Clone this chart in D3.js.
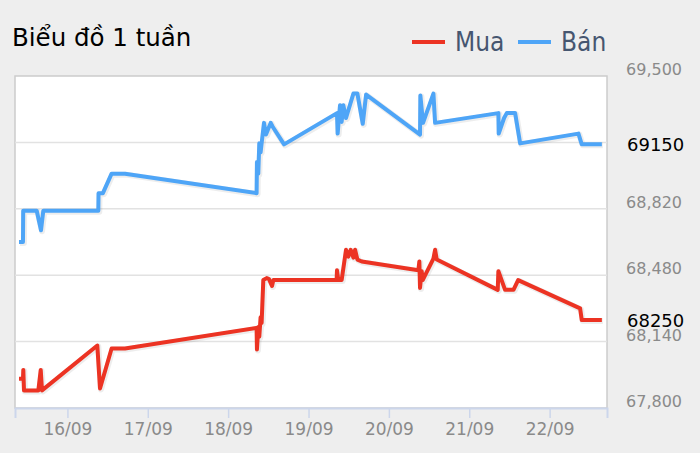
<!DOCTYPE html>
<html><head><meta charset="utf-8">
<script src="https://cdn.jsdelivr.net/npm/d3@7"></script>
<style>body{margin:0;background:#eeeeee;} svg{display:block}</style>
</head><body><svg id="c" width="700" height="453"></svg>
<script>
const title = "Biểu đồ 1 tuần";
const seriesNames = ["Mua", "Bán"];
const seriesColors = ["#ec3323", "#4ea5f7"];

const buyTimes = ["15/09 09:33","15/09 10:44","15/09 10:50","15/09 11:02","15/09 15:19","15/09 16:02","15/09 16:25",
  "16/09 08:56","16/09 09:44","16/09 13:12","16/09 17:12",
  "18/09 08:30","18/09 08:36","18/09 09:00","18/09 09:18","18/09 09:42","18/09 10:00","18/09 10:30","18/09 11:30","18/09 12:12","18/09 13:06","18/09 13:30",
  "19/09 08:24","19/09 08:30","19/09 08:54","19/09 09:54","19/09 11:12","19/09 11:54","19/09 12:36","19/09 13:24","19/09 13:54","19/09 14:36","19/09 15:54",
  "20/09 08:48","20/09 09:06","20/09 09:18","20/09 09:48","20/09 10:06","20/09 13:18","20/09 13:48","20/09 14:18",
  "21/09 08:30","21/09 08:42","21/09 10:42","21/09 13:12","21/09 14:36",
  "22/09 09:06","22/09 09:36","22/09 15:36"];
const buyValues = [67950,67950,67995,67890,67890,67995,67890,
  68120,67900,68105,68105,
  68210,68100,68215,68165,68265,68235,68455,68465,68460,68425,68455,
  68455,68505,68455,68455,68610,68575,68610,68570,68610,68560,68550,
  68505,68550,68415,68500,68455,68565,68610,68560,
  68405,68500,68405,68405,68455,
  68310,68250,68250];

const sellTimes = ["15/09 09:33","15/09 10:44","15/09 10:48","15/09 14:50","15/09 16:07","15/09 16:48",
  "16/09 09:14","16/09 09:18","16/09 10:36","16/09 13:12","16/09 17:12",
  "18/09 08:30","18/09 08:36","18/09 08:42","18/09 09:00","18/09 09:18","18/09 09:42","18/09 10:00","18/09 10:42","18/09 11:18","18/09 12:42","18/09 13:18","18/09 16:42",
  "19/09 08:30","19/09 08:42","19/09 09:24","19/09 09:54","19/09 10:24","19/09 11:12","19/09 13:24","19/09 14:36","19/09 16:12","19/09 17:12",
  "20/09 09:18","20/09 09:24","20/09 10:12","20/09 13:18","20/09 13:48",
  "21/09 08:42","21/09 08:48","21/09 10:24","21/09 11:12","21/09 13:42","21/09 15:12",
  "22/09 08:36","22/09 09:36","22/09 15:36"];
const sellValues = [68650,68650,68810,68810,68710,68810,
  68810,68900,68900,69000,69000,
  68900,69060,69060,69000,69155,69110,69155,69260,69200,69260,69240,69150,
  69310,69205,69350,69265,69350,69285,69410,69410,69255,69405,
  69200,69400,69260,69410,69260,
  69310,69205,69285,69310,69310,69155,
  69205,69150,69150];

const yTicks = [67800, 68140, 68480, 68820, 69160, 69500];
const yHiddenLabels = [69160];
const xTickLabels = ["16/09","17/09","18/09","19/09","20/09","21/09","22/09"];
const xDomainLabels = ["15/09 08:21", "22/09 17:08"];
const lastValues = [68250, 69150];

const parseT = d3.timeParse("%d/%m %H:%M");
const parseD = d3.timeParse("%d/%m");

const svg = d3.select("#c");
const L = 15, R = 607, T = 76, B = 408;
const x = d3.scaleTime().domain(xDomainLabels.map(parseT)).range([L, R]);
const y = d3.scaleLinear().domain([67800, 69500]).range([B, T]);

// plot background
svg.append("rect").attr("x", L).attr("y", T).attr("width", R - L).attr("height", B - T)
  .attr("fill", "#ffffff").attr("stroke", "#cccccc").attr("stroke-width", 1.5);

// grid lines
svg.append("g").selectAll("line").data(yTicks.filter(v => v !== 69500 && v !== 67800)).join("line")
  .attr("x1", L).attr("x2", R).attr("y1", d => y(d)).attr("y2", d => y(d))
  .attr("stroke", "#e2e2e2").attr("stroke-width", 1.5);

// x axis
const xAxis = d3.axisBottom(x).tickValues(xTickLabels.map(parseD)).tickFormat(d3.timeFormat("%d/%m")).tickSize(10).tickPadding(5);
const gx = svg.append("g").attr("transform", `translate(0,${B})`).call(xAxis);
gx.select(".domain").attr("stroke", "#ccd6eb").attr("stroke-width", 2);
gx.selectAll(".tick line").attr("stroke", "#ccd6eb").attr("stroke-width", 1.5);
gx.selectAll(".tick text").attr("fill", "#8a8a8a").attr("font-family", "DejaVu Sans").attr("font-size", 17);

// y labels
svg.append("g").selectAll("text").data(yTicks.filter(v => !yHiddenLabels.includes(v))).join("text")
  .attr("x", 682).attr("y", d => y(d) - 1)
  .attr("text-anchor", "end").attr("fill", "#8a8a8a")
  .attr("font-family", "DejaVu Sans").attr("font-size", 16)
  .text(d => d3.format(",")(d));

// lines
const line = d3.line().x(d => x(d[0])).y(d => y(d[1]));
const series = [
  d3.zip(buyTimes.map(parseT), buyValues),
  d3.zip(sellTimes.map(parseT), sellValues)
];
series.forEach((data, i) => {
  svg.append("path").datum(data).attr("d", line)
    .attr("fill", "none").attr("stroke", "rgba(0,0,0,0.07)").attr("stroke-width", 6)
    .attr("transform", "translate(1,1)").attr("stroke-linejoin", "round");
  svg.append("path").datum(data).attr("d", line)
    .attr("fill", "none").attr("stroke", seriesColors[i]).attr("stroke-width", 4)
    .attr("stroke-linejoin", "round").attr("stroke-linecap", "butt");
});

// last value labels
svg.append("g").selectAll("text").data(lastValues).join("text")
  .attr("x", 627).attr("y", d => y(d) + 7)
  .attr("fill", "#000").attr("font-family", "DejaVu Sans").attr("font-size", 18)
  .text(d => d);

// title
svg.append("text").attr("x", 12).attr("y", 46).attr("font-family", "DejaVu Sans")
  .attr("font-size", 24.5).attr("fill", "#000").text(title);

// legend
const legendX = [412, 518];
seriesNames.forEach((n, i) => {
  svg.append("line").attr("x1", legendX[i]).attr("x2", legendX[i] + 33).attr("y1", 42).attr("y2", 42)
    .attr("stroke", seriesColors[i]).attr("stroke-width", 4);
  svg.append("text").attr("x", legendX[i] + 43).attr("y", 51)
    .attr("font-family", "DejaVu Sans Condensed, DejaVu Sans").attr("font-size", 26)
    .attr("fill", "#465670").text(n);
});
</script>
</body></html>
